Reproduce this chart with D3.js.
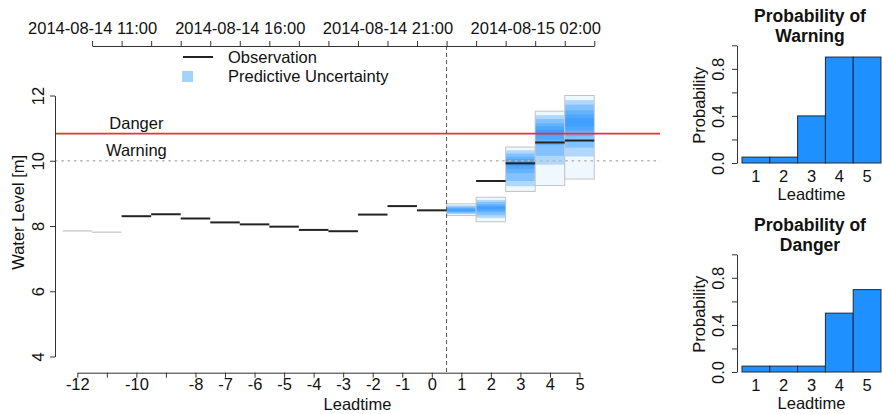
<!DOCTYPE html>
<html>
<head>
<meta charset="utf-8">
<script src="https://cdn.jsdelivr.net/npm/d3@7"></script>
<style>
  body { margin: 0; background: #fff; }
  svg { display: block; font-family: "Liberation Sans", Arial, Helvetica, sans-serif; }
</style>
</head>
<body>
<svg id="chart" width="882" height="414"></svg>
<script>
// observed water level per leadtime (null = no value)
const leadtimes = [-12, -11, -10, -9, -8, -7, -6, -5, -4, -3, -2, -1, 0, 1, 2, 3, 4, 5]
const observed = [7.85, 7.81, 8.30, 8.36, 8.23, 8.11, 8.05, 7.98, 7.88, 7.84, 8.35, 8.61, 8.48, null, 9.38, 9.92, 10.56, 10.62]

// forecast ensemble, quantiles per leadtime
const fcLead = [1, 2, 3, 4, 5]
const fcMin = [8.32, 8.13, 9.06, 9.24, 9.44]
const fcMax = [8.68, 8.88, 10.42, 11.52, 12.00]
const q05 = [8.36, 8.25, 9.22, 9.88, 10.13]
const q10 = [8.39, 8.33, 9.38, 10.15, 10.40]
const q20 = [8.42, 8.42, 9.62, 10.48, 10.75]
const q30 = [8.45, 8.47, 9.75, 10.65, 10.92]
const q40 = [8.47, 8.52, 9.85, 10.78, 11.05]
const q60 = [8.51, 8.59, 9.98, 10.95, 11.30]
const q70 = [8.53, 8.62, 10.05, 11.05, 11.42]
const q80 = [8.56, 8.67, 10.12, 11.15, 11.55]
const q90 = [8.60, 8.74, 10.22, 11.28, 11.72]
const q95 = [8.63, 8.80, 10.32, 11.40, 11.86]

const dangerLevel = 10.83
const warningLevel = 10.0

const yTicks = [4, 6, 8, 10, 12]
const xTickLabels = [-12, -10, -8, -7, -6, -5, -4, -3, -2, -1, 0, 1, 2, 3, 4, 5]
const timeStart = '2014-08-14 11:00'   // clock time at leadtime -11.5
const timeLabels = ['2014-08-14 11:00', '2014-08-14 16:00', '2014-08-14 21:00', '2014-08-15 02:00']

const probLead = [1, 2, 3, 4, 5]
const probWarning = [0.05, 0.05, 0.40, 0.90, 0.90]
const probDanger = [0.05, 0.05, 0.05, 0.50, 0.70]
const probTicks = [0, 0.2, 0.4, 0.6, 0.8, 1.0]
const probTickLabels = [0, 0.4, 0.8]

const FS = 16.5
const svg = d3.select('#chart')

// ---------- main plot ----------
const plot = {left: 55, right: 660, top: 46, bottom: 372.7}
const x = d3.scaleLinear().domain([-12, 5]).range([77.3, 579.5])
const y = d3.scaleLinear().domain([4, 12]).range([356.5, 95.5])

const main = svg.append('g')

// uncertainty boxes
const bands = [[q05, q95], [q10, q90], [q20, q80], [q30, q70], [q40, q60]]
fcLead.forEach((L, i) => {
    main.append('rect')
        .attr('x', x(L - 0.5))
        .attr('width', x(L + 0.5) - x(L - 0.5))
        .attr('y', y(fcMax[i]))
        .attr('height', y(fcMin[i]) - y(fcMax[i]))
        .attr('fill', '#f0f8ff')
        .attr('stroke', '#c4c4c4')
        .attr('stroke-width', 1)
    bands.forEach(([lo, hi]) => {
        main.append('rect')
            .attr('x', x(L - 0.5) + 0.5)
            .attr('width', x(L + 0.5) - x(L - 0.5) - 1)
            .attr('y', y(hi[i]))
            .attr('height', y(lo[i]) - y(hi[i]))
            .attr('fill', '#1E90FF')
            .attr('fill-opacity', 0.3)
    })
})

// threshold lines
main.append('line')
    .attr('x1', plot.left).attr('x2', plot.right)
    .attr('y1', y(warningLevel)).attr('y2', y(warningLevel))
    .attr('stroke', '#b8b8b8').attr('stroke-width', 1.5)
    .attr('stroke-dasharray', '2.5,3.8')
main.append('line')
    .attr('x1', plot.left).attr('x2', plot.right)
    .attr('y1', y(dangerLevel)).attr('y2', y(dangerLevel))
    .attr('stroke', '#f23030').attr('stroke-width', 1.6)

main.append('text')
    .attr('x', x(-10)).attr('y', y(dangerLevel) - 5)
    .attr('text-anchor', 'middle').attr('font-size', FS).attr('fill', '#111')
    .text('Danger')
main.append('text')
    .attr('x', x(-10)).attr('y', y(warningLevel) - 5)
    .attr('text-anchor', 'middle').attr('font-size', FS).attr('fill', '#111')
    .text('Warning')

// observations as steps centred on each leadtime
main.selectAll('line.obs')
    .data(leadtimes.map((L, i) => ({L, v: observed[i]})).filter(d => d.v !== null))
    .join('line')
        .attr('class', 'obs')
        .attr('x1', d => x(d.L - 0.5))
        .attr('x2', d => x(d.L + 0.5))
        .attr('y1', d => y(d.v))
        .attr('y2', d => y(d.v))
        .attr('stroke', d => d.L < -10 ? '#c8c8c8' : '#222')
        .attr('stroke-width', d => d.L < -10 ? 1.3 : 2)

// now line
main.append('line')
    .attr('x1', x(0.5)).attr('x2', x(0.5))
    .attr('y1', plot.top).attr('y2', plot.bottom)
    .attr('stroke', '#555').attr('stroke-width', 1)
    .attr('stroke-dasharray', '4,3')

// bottom axis
const xAxisG = main.append('g')
    .attr('transform', `translate(0,${plot.bottom})`)
    .call(d3.axisBottom(x)
        .tickValues(leadtimes)
        .tickSize(5).tickSizeOuter(0).tickPadding(1)
        .tickFormat(d => xTickLabels.includes(d) ? String(d) : ''))
xAxisG.selectAll('text').attr('font-size', FS).attr('fill', '#111')
xAxisG.selectAll('path, line').attr('stroke', '#333')

main.append('text')
    .attr('x', (plot.left + plot.right) / 2).attr('y', 410)
    .attr('text-anchor', 'middle').attr('font-size', FS).attr('fill', '#111')
    .text('Leadtime')

// top time axis
const parseTime = d3.timeParse('%Y-%m-%d %H:%M')
const fmtTime = d3.timeFormat('%Y-%m-%d %H:%M')
const t0 = parseTime(timeStart)
const timeX = d3.scaleTime()
    .domain([t0, d3.timeHour.offset(t0, 17)])
    .range([x(-11.5), x(5.5)])
const topAxisG = main.append('g')
    .attr('transform', `translate(0,${plot.top})`)
    .call(d3.axisTop(timeX)
        .ticks(d3.timeHour.every(1))
        .tickSize(5).tickSizeOuter(0).tickPadding(7)
        .tickFormat(d => timeLabels.includes(fmtTime(d)) ? fmtTime(d) : ''))
topAxisG.selectAll('text').attr('font-size', FS).attr('fill', '#111')
topAxisG.selectAll('path, line').attr('stroke', '#333')

// y axis with rotated labels
const yAxisG = main.append('g')
    .attr('transform', `translate(${plot.left},0)`)
    .call(d3.axisLeft(y).tickValues(yTicks).tickSize(5).tickSizeOuter(0))
yAxisG.selectAll('path, line').attr('stroke', '#333')
yAxisG.selectAll('text')
    .attr('x', null).attr('dy', null)
    .attr('text-anchor', 'middle')
    .attr('transform', 'translate(-11,0) rotate(-90)')
    .attr('font-size', FS).attr('fill', '#111')

main.append('text')
    .attr('transform', `translate(24,${(plot.top + plot.bottom) / 2 + 3}) rotate(-90)`)
    .attr('text-anchor', 'middle').attr('font-size', FS).attr('fill', '#111')
    .text('Water Level [m]')

// legend
const legend = main.append('g')
legend.append('line')
    .attr('x1', 183).attr('x2', 213).attr('y1', 57).attr('y2', 57)
    .attr('stroke', '#222').attr('stroke-width', 2)
legend.append('text')
    .attr('x', 228).attr('y', 63)
    .attr('font-size', FS).attr('fill', '#111')
    .text('Observation')
legend.append('rect')
    .attr('x', 182).attr('y', 71).attr('width', 11).attr('height', 11)
    .attr('fill', '#a3d3fb')
legend.append('text')
    .attr('x', 228).attr('y', 82)
    .attr('font-size', FS).attr('fill', '#111')
    .text('Predictive Uncertainty')

// ---------- probability bar charts ----------
class ProbabilityBars {

    constructor(config, _data) {
        this.config = {
            axisX: config.axisX || 737,
            left: config.left || 742,
            right: config.right || 881,
            top: config.top,
            bottom: config.bottom,
            titleLines: config.titleLines,
        }
        this.data = _data
        this.initVis()
    }

    initVis() {
        let vis = this
        let c = vis.config

        vis.g = svg.append('g')

        vis.yScale = d3.scaleLinear().domain([0, 1]).range([c.bottom, c.top])
        vis.xScale = d3.scaleBand().domain(probLead).range([c.left, c.right]).padding(0)

        vis.yAxisG = vis.g.append('g')
            .attr('transform', `translate(${c.axisX},0)`)
            .call(d3.axisLeft(vis.yScale)
                .tickValues(probTicks).tickSize(5).tickSizeOuter(0)
                .tickFormat(d => probTickLabels.includes(d) ? d3.format('.1f')(d) : ''))
        vis.yAxisG.selectAll('path, line').attr('stroke', '#333')
        vis.yAxisG.selectAll('text')
            .attr('x', null).attr('dy', null)
            .attr('text-anchor', 'middle')
            .attr('transform', 'translate(-13.5,0) rotate(-90)')
            .attr('font-size', FS).attr('fill', '#111')

        vis.g.append('text')
            .attr('transform', `translate(705,${(c.top + c.bottom) / 2 + 1}) rotate(-90)`)
            .attr('text-anchor', 'middle').attr('font-size', FS).attr('fill', '#111')
            .text('Probability')

        const cx = (c.left + c.right) / 2
        vis.g.selectAll('text.title')
            .data(c.titleLines)
            .join('text')
                .attr('class', 'title')
                .attr('x', cx - 1.5)
                .attr('y', (d, i) => c.top - 23 + i * 20)
                .attr('text-anchor', 'middle')
                .attr('font-size', 17.5).attr('font-weight', 'bold').attr('fill', '#111')
                .text(d => d)

        vis.g.selectAll('text.lead')
            .data(probLead)
            .join('text')
                .attr('class', 'lead')
                .attr('x', d => vis.xScale(d) + vis.xScale.bandwidth() / 2)
                .attr('y', c.bottom + 18.5)
                .attr('text-anchor', 'middle').attr('font-size', FS).attr('fill', '#111')
                .text(d => d)

        vis.g.append('text')
            .attr('x', cx).attr('y', c.bottom + 36.5)
            .attr('text-anchor', 'middle').attr('font-size', FS).attr('fill', '#111')
            .text('Leadtime')

        vis.renderVis()
    }

    renderVis() {
        let vis = this

        vis.g.selectAll('rect.bar')
            .data(vis.data)
            .join('rect')
                .attr('class', 'bar')
                .attr('x', (d, i) => vis.xScale(probLead[i]))
                .attr('width', vis.xScale.bandwidth())
                .attr('y', d => vis.yScale(d))
                .attr('height', d => vis.yScale(0) - vis.yScale(d))
                .attr('fill', '#1E90FF')
                .attr('stroke', '#1b2a3a')
                .attr('stroke-width', 1)
    }
}

new ProbabilityBars({top: 45.3, bottom: 163, titleLines: ['Probability of', 'Warning']}, probWarning)
new ProbabilityBars({top: 254.3, bottom: 372, titleLines: ['Probability of', 'Danger']}, probDanger)
</script>
</body>
</html>
